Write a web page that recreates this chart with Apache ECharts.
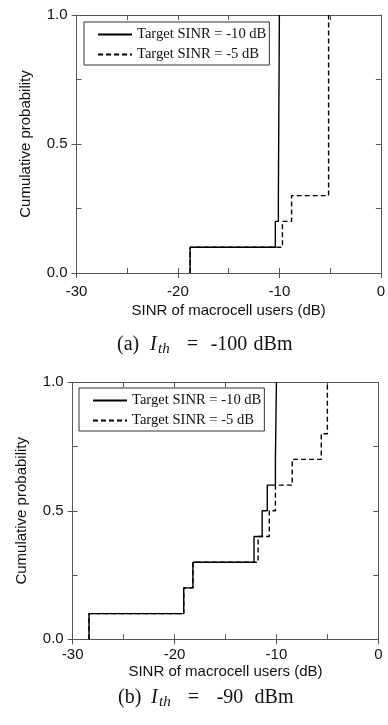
<!DOCTYPE html>
<html>
<head>
<meta charset="utf-8">
<script src="https://cdn.jsdelivr.net/npm/echarts@6/dist/echarts.min.js"></script>
<style>
  html, body { margin: 0; padding: 0; background: #fff; }
  #chart { width: 388px; height: 725px; }
</style>
</head>
<body>
<div id="chart"></div>
<script>
// data: CDF steps, x = SINR (dB), y = cumulative probability
const seriesNames = ['Target SINR = -10 dB', 'Target SINR = -5 dB']

// (a) I_th = -100 dBm
const aSolidX = [-18.8, -18.8, -10.4, -10.1, -10.0]
const aSolidY = [0, 0.1, 0.2, 0.3, 1.0]
const aDashX = [-18.8, -18.8, -9.7, -8.8, -5.15]
const aDashY = [0, 0.1, 0.2, 0.3, 1.0]

// (b) I_th = -90 dBm
const bSolidX = [-28.4, -28.4, -19.1, -18.2, -12.2, -11.4, -10.9, -10.1, -10.0]
const bSolidY = [0, 0.1, 0.2, 0.3, 0.4, 0.5, 0.6, 0.7, 1.0]
const bDashX = [-28.4, -28.4, -19.1, -18.2, -11.8, -10.7, -10.1, -8.45, -5.6, -5.0]
const bDashY = [0, 0.1, 0.2, 0.3, 0.4, 0.5, 0.6, 0.7, 0.8, 1.0]

const xTicks = [-30, -20, -10, 0]
const yTicks = [0.0, 0.5, 1.0]

const zip = (xs, ys) => xs.map((x, i) => [x, ys[i]])

const sans = 'Liberation Sans, Arial, sans-serif'
const serif = 'Liberation Serif, Times New Roman, serif'
const axisColor = '#555'

const grids = [
  { left: 76.5, right: 4.5, top: 15, height: 258 },
  { left: 72.7, right: 9.7, top: 382.3, height: 257 },
]
const labelMargin = [11, 8]
const xNameGap = [30, 25]

const line = { show: true, onZero: false, lineStyle: { color: axisColor, width: 1 } }
const noLine = { show: false, onZero: false }
const tick = (inside) => ({ show: true, inside, length: 5, lineStyle: { color: axisColor } })

const xAxes = []
const yAxes = []
grids.forEach((g, i) => {
  // main bottom axis with labels
  xAxes.push({
    gridIndex: i, type: 'value', min: -30, max: 0, interval: 10, position: 'bottom',
    name: 'SINR of macrocell users (dB)', nameLocation: 'middle', nameGap: xNameGap[i],
    nameTextStyle: { fontFamily: sans, fontSize: 15, color: '#111' },
    axisLine: line, axisTick: tick(false),
    axisLabel: {
      fontFamily: sans, fontSize: 15, color: '#111', margin: labelMargin[i],
      formatter: (v) => xTicks.includes(v) ? String(v) : '',
    },
    splitLine: { show: false },
  })
  // inner ticks on the bottom
  xAxes.push({
    gridIndex: i, type: 'value', min: -30, max: 0, interval: 5, position: 'bottom',
    axisLine: noLine, axisTick: tick(true),
    axisLabel: { show: false }, splitLine: { show: false },
  })
  // top mirror
  xAxes.push({
    gridIndex: i, type: 'value', min: -30, max: 0, interval: 5, position: 'top',
    axisLine: line, axisTick: tick(true),
    axisLabel: { show: false }, splitLine: { show: false },
  })
  yAxes.push({
    gridIndex: i, type: 'value', min: 0, max: 1, interval: 0.5, position: 'left',
    name: 'Cumulative probability', nameLocation: 'middle', nameGap: 43,
    nameTextStyle: { fontFamily: sans, fontSize: 15, color: '#111' },
    axisLine: line, axisTick: tick(false),
    axisLabel: {
      fontFamily: sans, fontSize: 15, color: '#111', margin: 9,
      formatter: (v) => yTicks.includes(v) ? v.toFixed(1) : '',
    },
    splitLine: { show: false },
  })
  yAxes.push({
    gridIndex: i, type: 'value', min: 0, max: 1, interval: 0.25, position: 'left',
    axisLine: noLine, axisTick: tick(true),
    axisLabel: { show: false }, splitLine: { show: false },
  })
  yAxes.push({
    gridIndex: i, type: 'value', min: 0, max: 1, interval: 0.25, position: 'right',
    axisLine: line, axisTick: tick(true),
    axisLabel: { show: false }, splitLine: { show: false },
  })
})

function stepSeries(name, data, gridIdx, dashed) {
  return {
    name, type: 'line', step: 'end', data,
    xAxisIndex: gridIdx * 3, yAxisIndex: gridIdx * 3,
    symbol: 'none', silent: true,
    lineStyle: { color: '#000', width: 1.4, type: dashed ? [5, 3] : 'solid' },
    itemStyle: { color: '#000' },
  }
}

function legendAt(left, top) {
  return {
    left, top, orient: 'vertical',
    data: seriesNames,
    itemWidth: 34, itemHeight: 14, itemGap: 5,
    padding: [5, 3, 3, 13],
    borderColor: '#333', borderWidth: 1,
    itemStyle: { opacity: 0, borderWidth: 0 },
    textStyle: { fontFamily: serif, fontSize: 14.6, color: '#111' },
    selectedMode: false,
  }
}

function caption(letter, val, cx, cy) {
  const base = { fontFamily: serif, fontSize: 20, fill: '#111' }
  return {
    type: 'text', x: cx, y: cy,
    style: {
      text: '{p|(' + letter + ')}{i|I}{s|th}{e|=}{n|' + val + '}{u|dBm}',
      align: 'center', verticalAlign: 'middle',
      rich: {
        p: { ...base, width: 33, align: 'left' },
        i: { ...base, fontStyle: 'italic', width: 8, align: 'left' },
        s: { ...base, fontStyle: 'italic', fontSize: 15, width: 22, align: 'left', verticalAlign: 'bottom', padding: [8, 0, 0, 0] },
        e: { ...base, width: 25, align: 'center' },
        n: { ...base, width: 48, align: 'center' },
        u: { ...base, width: 40, align: 'center' },
      },
    },
  }
}

const chart = echarts.init(document.getElementById('chart'))
chart.setOption({
  animation: false,
  backgroundColor: '#fff',
  grid: grids,
  xAxis: xAxes,
  yAxis: yAxes,
  legend: [legendAt(84, 22), legendAt(79, 388)],
  series: [
    stepSeries(seriesNames[0], zip(aSolidX, aSolidY), 0, false),
    stepSeries(seriesNames[1], zip(aDashX, aDashY), 0, true),
    stepSeries(seriesNames[0], zip(bSolidX, bSolidY), 1, false),
    stepSeries(seriesNames[1], zip(bDashX, bDashY), 1, true),
  ],
  graphic: [
    caption('a', '-100', 205, 345),
    caption('b', '-90', 206, 698),
  ],
})
</script>
</body>
</html>
